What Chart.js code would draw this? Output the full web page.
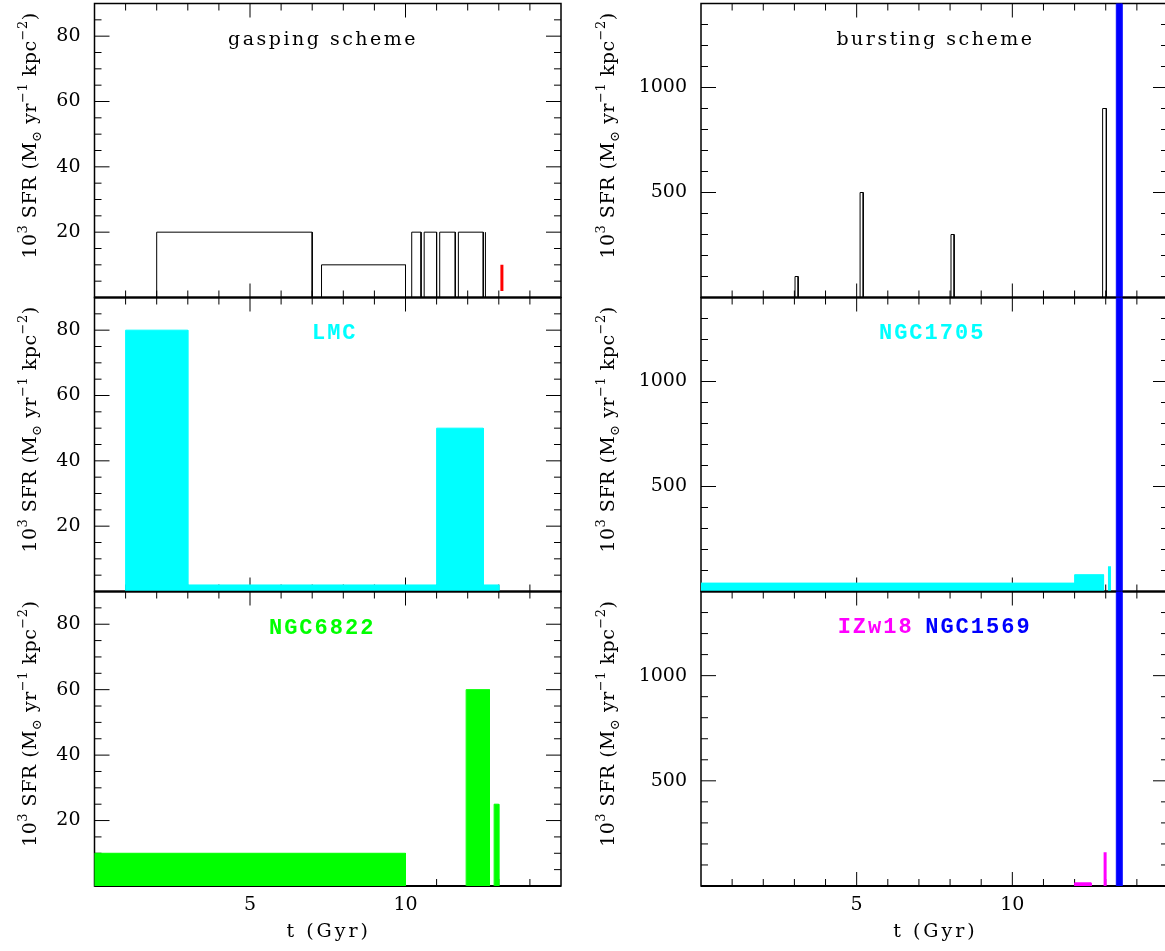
<!DOCTYPE html>
<html lang="en">
<head>
<meta charset="UTF-8" />
<title>SFR schemes</title>
<script src="https://cdn.jsdelivr.net/npm/chart.js"></script>
<style>
  html, body { margin: 0; padding: 0; background: #fff; overflow: hidden; }
  canvas { position: absolute; left: 0; top: 0; }
</style>
</head>
<body>
<canvas id="gasp"></canvas>
<canvas id="burst"></canvas>
<canvas id="lmc"></canvas>
<canvas id="n1705"></canvas>
<canvas id="n6822"></canvas>
<canvas id="izw"></canvas>
<script>
// ---- data (t in Gyr, SFR in 10^3 Msun/yr/kpc^2) ----
// gasping scheme (black outlines)
const gaspStart = [2, 7.3, 10.2, 10.6, 11.1, 11.7];
const gaspEnd   = [7, 10, 10.5, 11, 11.6, 12.5];
const gaspSFR   = [20, 10, 20, 20, 20, 20];
const gaspEdgeT = [12.57, 12.57];
const gaspEdgeSFR = [0, 20];
const gaspRedT = [13.1, 13.1];
const gaspRedSFR = [2, 10];

// bursting scheme (black outlines)
const burstStart = [3.02, 5.11, 8.03, 12.9];
const burstEnd   = [3.12, 5.21, 8.13, 13.02];
const burstSFR   = [100, 500, 300, 900];

// NGC1569 (off scale, drawn in every right panel)
const n1569Start = [13.34];
const n1569End   = [13.52];
const n1569SFR   = [1400];

// LMC
const lmcStart = [1, 3, 11, 12.5];
const lmcEnd   = [3, 11, 12.5, 13];
const lmcSFR   = [80, 2, 50, 2];

// NGC1705
const n1705Start = [0, 12];
const n1705End   = [12, 12.93];
const n1705SFR   = [40, 80];
const n1705SpikeT = [13.12, 13.12];
const n1705SpikeSFR = [0, 120];

// NGC6822
const n6822Start = [0, 11.95, 12.85];
const n6822End   = [10, 12.7, 13.0];
const n6822SFR   = [10, 60, 25];

// IZw18
const izwStart = [12];
const izwEnd   = [12.53];
const izwSFR   = [15];
const izwSpikeT = [12.98, 12.98];
const izwSpikeSFR = [0, 160];

// ticks
const xLabels = [5, 10];
const xMajor = [5, 10];
const xMinor = [1, 2, 3, 4, 6, 7, 8, 9, 11, 12, 13, 14];
const yLabelsLeft = [20, 40, 60, 80];
const yMinorLeft = [5, 10, 15, 25, 30, 35, 45, 50, 55, 65, 70, 75, 85];
const yLabelsRight = [500, 1000];
const yMinorRight = [100, 200, 300, 400, 600, 700, 800, 900, 1100, 1200, 1300];

// ---- helpers ----
const W = 1175, H = 951;
const SERIF = '"DejaVu Serif", serif';
const BOLD = 'bold 22px "Liberation Mono", monospace';

function rects(starts, ends, sfr, color, filled, width) {
  return starts.map((s, i) => ({
    data: [{x: s, y: 0}, {x: s, y: sfr[i]}, {x: ends[i], y: sfr[i]}, {x: ends[i], y: 0}],
    borderColor: color,
    backgroundColor: color,
    borderWidth: width || 1,
    fill: filled ? 'origin' : false,
    pointRadius: 0,
    tension: 0
  }));
}

function segment(ts, vals, color, width) {
  return {
    data: ts.map((t, i) => ({x: t, y: vals[i]})),
    borderColor: color,
    borderWidth: width,
    fill: false,
    pointRadius: 0
  };
}

const frameTicks = {
  id: 'frameTicks',
  beforeDatasetsDraw(chart, args, o) {
    const {ctx, chartArea: a, scales: {x, y}} = chart;
    ctx.save();
    ctx.strokeStyle = '#000';
    ctx.lineWidth = 1;
    ctx.beginPath();
    const vt = (v, len) => {
      const p = x.getPixelForValue(v);
      ctx.moveTo(p, a.bottom); ctx.lineTo(p, a.bottom - len);
      ctx.moveTo(p, a.top); ctx.lineTo(p, a.top + len);
    };
    const ht = (v, len) => {
      const p = y.getPixelForValue(v);
      ctx.moveTo(a.left, p); ctx.lineTo(a.left + len, p);
      ctx.moveTo(a.right, p); ctx.lineTo(a.right - len, p);
    };
    xMajor.forEach(v => vt(v, 14));
    xMinor.forEach(v => vt(v, 7));
    o.yMajor.forEach(v => ht(v, 15));
    o.yMinor.forEach(v => ht(v, 7));
    ctx.stroke();
    ctx.lineWidth = 1.5;
    ctx.strokeRect(a.left, a.top, a.width, a.height);
    ctx.lineWidth = 2;
    ctx.beginPath();
    ctx.moveTo(a.left, a.bottom); ctx.lineTo(a.right, a.bottom);
    ctx.stroke();
    ctx.restore();
  },
  afterDraw(chart, args, o) {
    const {ctx, chartArea: a} = chart;
    ctx.save();
    (o.texts || []).forEach(t => {
      ctx.font = t.font;
      ctx.fillStyle = t.color;
      ctx.letterSpacing = t.spacing || '0px';
      ctx.textAlign = 'center';
      ctx.textBaseline = 'middle';
      ctx.fillText(t.text, a.left + t.fx * a.width, a.top + t.fy * a.height);
    });
    // x-axis title (wide letter spacing like the original)
    if (chart.scales.x._isVisible()) {
      ctx.font = '19px ' + SERIF;
      ctx.fillStyle = '#000';
      ctx.letterSpacing = '3px';
      ctx.textAlign = 'center';
      ctx.textBaseline = 'middle';
      ctx.fillText('t (Gyr)', (a.left + a.right) / 2 + 1, a.bottom + 46);
    }
    // rotated y-axis label with super/subscripts
    const size = 19, small = 13;
    const parts = [
      ['10', 0], ['3', 1], [' SFR (M', 0], ['\u2299', -1], [' yr', 0], ['\u22121', 1],
      [' kpc', 0], ['\u22122', 1], [')', 0]
    ];
    ctx.letterSpacing = '0.5px';
    let total = 0;
    parts.forEach(p => {
      ctx.font = (p[1] ? small : size) + 'px ' + SERIF;
      total += ctx.measureText(p[0]).width;
    });
    ctx.translate(o.labelX, (a.top + a.bottom) / 2 - 15);
    ctx.rotate(-Math.PI / 2);
    ctx.fillStyle = '#000';
    ctx.textAlign = 'left';
    ctx.textBaseline = 'alphabetic';
    let cx = -total / 2;
    const base = size * 0.36;
    parts.forEach(p => {
      ctx.font = (p[1] ? small : size) + 'px ' + SERIF;
      const dy = p[1] === 1 ? -size * 0.45 : (p[1] === -1 ? size * 0.25 : 0);
      ctx.fillText(p[0], cx, base + dy);
      cx += ctx.measureText(p[0]).width;
    });
    ctx.restore();
  }
};

const areas = {
  left:  {l: 94.5, r: 561},
  right: {l: 701, r: 1168},
  rows: [[3.5, 297.5], [297.5, 591.5], [591.5, 886]]
};

function panel(id, col, row, datasets, texts) {
  const c = areas[col];
  const [top, bottom] = areas.rows[row];
  const isLeft = col === 'left';
  const isBottom = row === 2;
  const yAxisW = 80, xAxisH = 65;
  const canvas = document.getElementById(id);
  canvas.width = W; canvas.height = H;
  const zero = s => { s.paddingTop = 0; s.paddingBottom = 0; s.paddingLeft = 0; s.paddingRight = 0; };
  new Chart(canvas, {
    type: 'line',
    data: {datasets},
    options: {
      responsive: false,
      animation: false,
      events: [],
      layout: {padding: {left: c.l - yAxisW, right: W - c.r, top: top,
                         bottom: isBottom ? H - bottom - xAxisH : H - bottom}},
      plugins: {
        legend: {display: false},
        tooltip: {enabled: false},
        frameTicks: {
          yMajor: isLeft ? yLabelsLeft : yLabelsRight,
          yMinor: isLeft ? yMinorLeft : yMinorRight,
          labelX: isLeft ? 29 : 607,
          texts
        }
      },
      scales: {
        x: {
          type: 'linear', min: 0, max: 15,
          display: isBottom,
          grid: {display: false, drawTicks: false},
          border: {display: false},
          ticks: {font: {family: SERIF, size: 19}, color: '#000', padding: 8, maxRotation: 0},
          afterBuildTicks: s => { s.ticks = xLabels.map(v => ({value: v})); },
          afterFit: s => { if (isBottom) s.height = xAxisH; zero(s); }
        },
        y: {
          type: 'linear', min: 0, max: isLeft ? 90 : 1400,
          grid: {display: false, drawTicks: false},
          border: {display: false},
          ticks: {font: {family: SERIF, size: 19}, color: '#000', padding: 14, callback: v => String(v)},
          afterBuildTicks: s => { s.ticks = (isLeft ? yLabelsLeft : yLabelsRight).map(v => ({value: v})); },
          afterFit: s => { s.width = yAxisW; zero(s); }
        }
      }
    },
    plugins: [frameTicks]
  });
}

const titleFont = '19px ' + SERIF;

panel('gasp', 'left', 0, [
  ...rects(gaspStart, gaspEnd, gaspSFR, '#000', false, 1),
  segment(gaspEdgeT, gaspEdgeSFR, '#000', 1),
  segment(gaspRedT, gaspRedSFR, '#ff0000', 3)
], [{text: 'gasping scheme', font: titleFont, color: '#000', spacing: '2.5px', fx: 0.49, fy: 0.125}]);

panel('burst', 'right', 0, [
  ...rects(burstStart, burstEnd, burstSFR, '#000', false, 1),
  ...rects(n1569Start, n1569End, n1569SFR, '#0000ff', true, 1)
], [{text: 'bursting scheme', font: titleFont, color: '#000', spacing: '2.5px', fx: 0.502, fy: 0.125}]);

panel('lmc', 'left', 1, [
  ...rects(lmcStart, lmcEnd, lmcSFR, '#00ffff', true, 1)
], [{text: 'LMC', font: BOLD, color: '#00ffff', spacing: '2px', fx: 0.515, fy: 0.122}]);

panel('n1705', 'right', 1, [
  ...rects(n1705Start, n1705End, n1705SFR, '#00ffff', true, 1),
  segment(n1705SpikeT, n1705SpikeSFR, '#00ffff', 3),
  ...rects(n1569Start, n1569End, n1569SFR, '#0000ff', true, 1)
], [{text: 'NGC1705', font: BOLD, color: '#00ffff', spacing: '2px', fx: 0.495, fy: 0.122}]);

panel('n6822', 'left', 2, [
  ...rects(n6822Start, n6822End, n6822SFR, '#00ff00', true, 1)
], [{text: 'NGC6822', font: BOLD, color: '#00ff00', spacing: '2px', fx: 0.488, fy: 0.124}]);

panel('izw', 'right', 2, [
  ...rects(izwStart, izwEnd, izwSFR, '#ff00ff', true, 1),
  segment(izwSpikeT, izwSpikeSFR, '#ff00ff', 3),
  ...rects(n1569Start, n1569End, n1569SFR, '#0000ff', true, 1)
], [
  {text: 'IZw18', font: BOLD, color: '#ff00ff', spacing: '2px', fx: 0.374, fy: 0.122},
  {text: 'NGC1569', font: BOLD, color: '#0000ff', spacing: '2px', fx: 0.594, fy: 0.122}
]);
</script>
</body>
</html>
